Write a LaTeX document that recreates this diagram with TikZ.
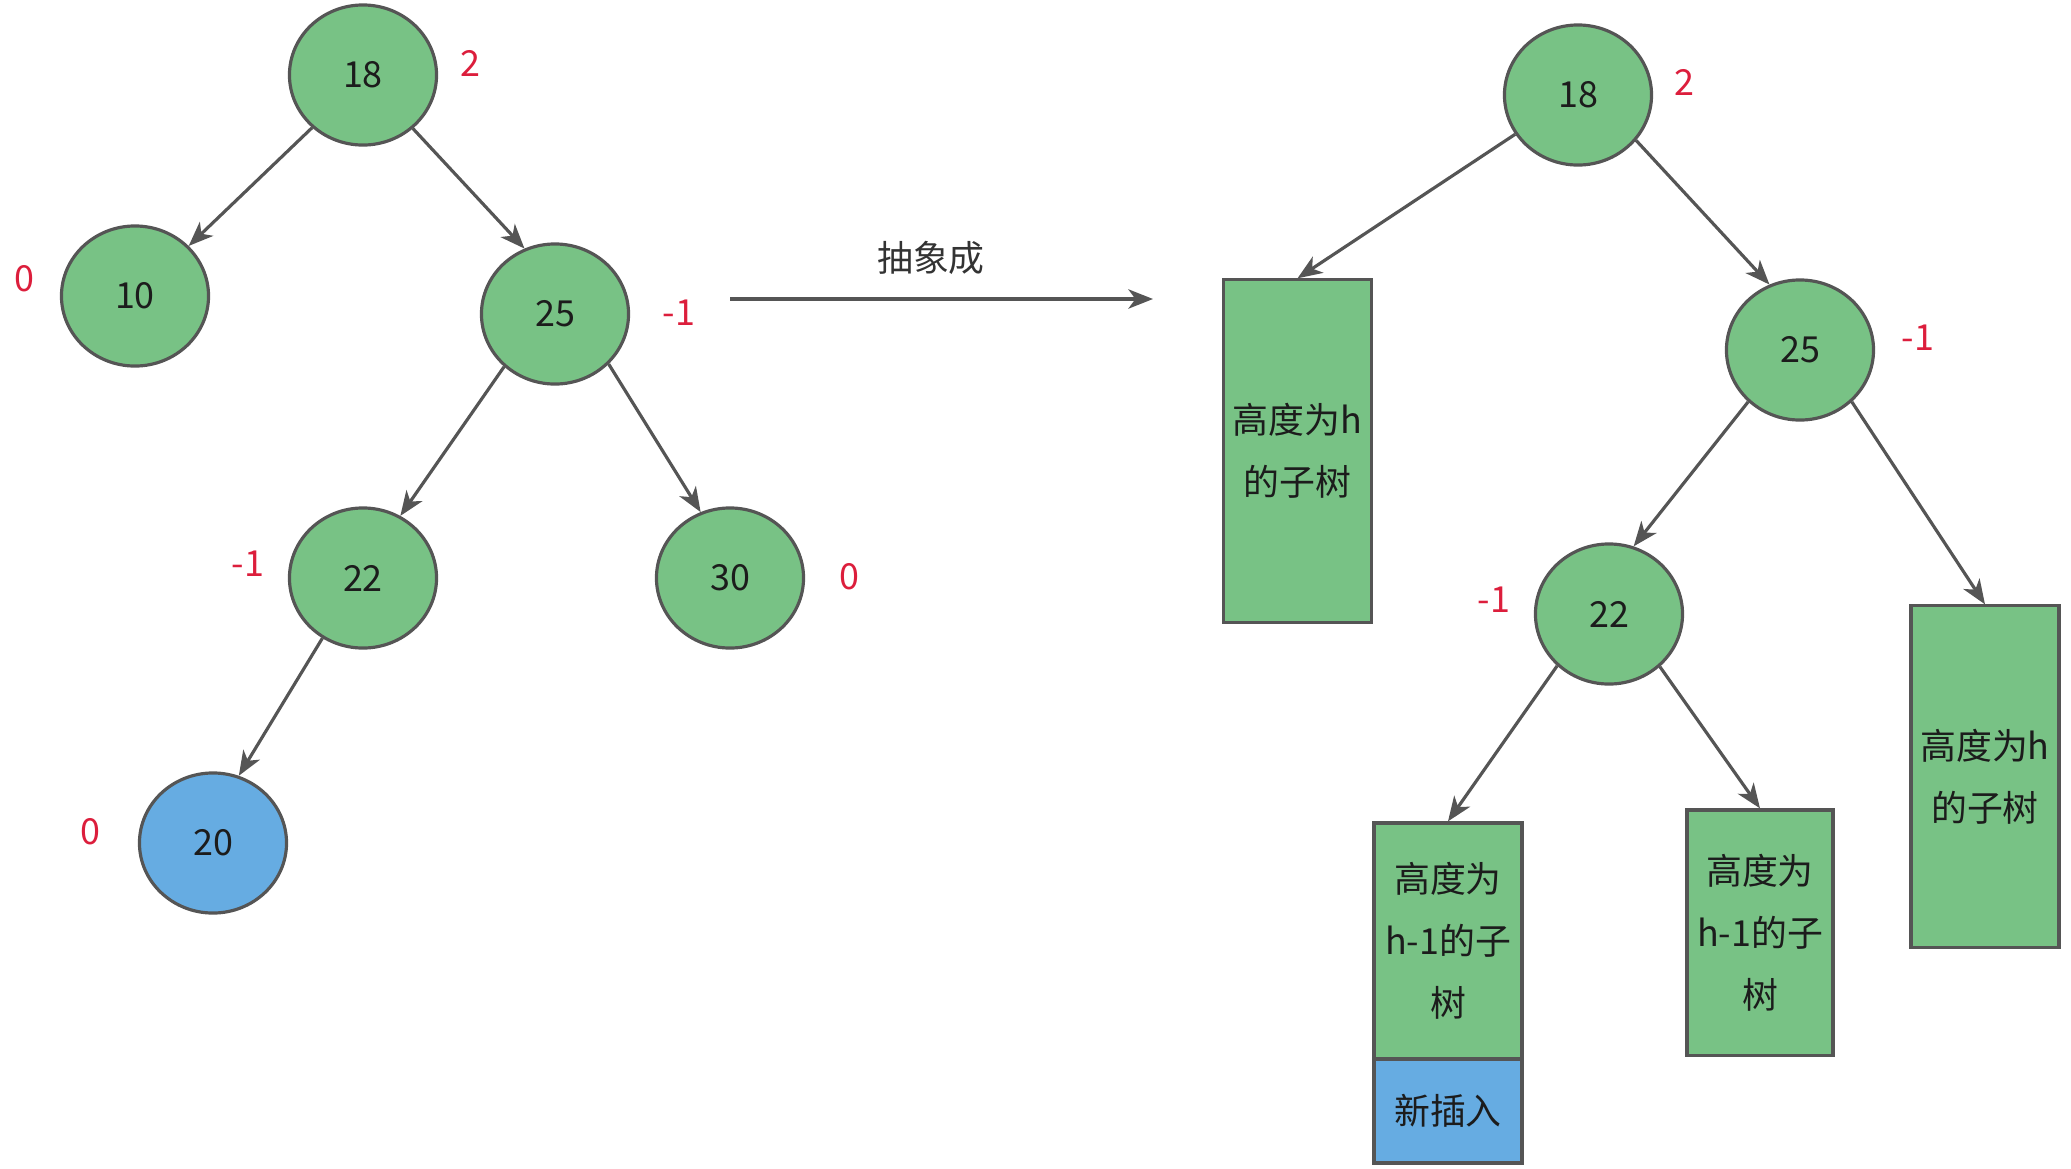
\documentclass[tikz,border=0pt]{standalone}
\usepackage{fontspec}
\setmainfont{Noto Sans CJK SC}
\usetikzlibrary{shapes.geometric,arrows.meta}
\definecolor{nodegreen}{RGB}{120,194,133}
\definecolor{nodeblue}{RGB}{102,172,226}
\definecolor{edgegray}{RGB}{85,85,85}
\definecolor{balred}{RGB}{220,30,60}
\definecolor{txt}{RGB}{28,28,28}
\begin{document}
\begin{tikzpicture}[x=0.01cm,y=-0.01cm,
  treenode/.style={ellipse, draw=edgegray, line width=0.9pt, fill=nodegreen,
    minimum width=1.47cm, minimum height=1.40cm, inner sep=0pt,
    font=\fontsize{10.2}{12}\selectfont, text=txt},
  newnode/.style={treenode, fill=nodeblue},
  subtree/.style={rectangle, draw=edgegray, line width=0.9pt, fill=nodegreen,
    minimum width=1.48cm, inner sep=0pt, align=center,
    font=\fontsize{10.2}{17.6}\selectfont, text=txt},
  newbox/.style={subtree, fill=nodeblue},
  bal/.style={text=balred, font=\fontsize{10.2}{12}\selectfont, inner sep=0pt},
  link/.style={draw=edgegray, line width=0.9pt, -{Stealth[length=7pt,width=5.5pt,inset=2pt]}},
  caption/.style={text=txt!90, font=\fontsize{10.2}{12}\selectfont, inner sep=0pt}
]
\useasboundingbox (0,0) rectangle (2071,1169);

% ---------- left tree ----------
\node[treenode] (L18) at (363,75) {18};
\node[treenode] (L10) at (135,296) {10};
\node[treenode] (L25) at (555,314) {25};
\node[treenode] (L22) at (363,578) {22};
\node[treenode] (L30) at (730,578) {30};
\node[newnode]  (L20) at (213,843) {20};

\node[bal] (bL18) at (470,63) {2};
\node[bal] (bL10) at (24,279) {0};
\node[bal] (bL25) at (679,313) {-1};
\node[bal] (bL22) at (248,564) {-1};
\node[bal] (bL30) at (849,577) {0};
\node[bal] (bL20) at (90,832) {0};

\draw[link] (L18.226) -- (L10.43);
\draw[link] (L18.-47) -- (L25.115);
\draw[link] (L25.226) -- (L22.59);
\draw[link] (L25.-43) -- (L30.114);
\draw[link] (L22.236) -- (L20.69);

% ---------- abstraction arrow ----------
\coordinate (A1) at (730,299);
\coordinate (A2) at (1153,299);
\draw[link] (A1) -- (A2);
\node[caption] (cap) at (931,258) {抽象成};

% ---------- right tree ----------
\node[treenode] (R18) at (1578,95) {18};
\node[treenode] (R25) at (1800,350) {25};
\node[treenode] (R22) at (1609,614) {22};

\node[bal] (bR18) at (1684,82) {2};
\node[bal] (bR25) at (1918,338) {-1};
\node[bal] (bR22) at (1494,600) {-1};

\node[subtree, minimum height=3.42cm] (RH1) at (1297.5,451) {高度为h\\的子树};
\node[subtree, minimum height=3.41cm] (RH2) at (1985,776.5) {高度为h\\的子树};
\node[subtree, minimum height=2.36cm] (HL) at (1448,941) {高度为\\h-1的子\\树};
\node[newbox, minimum height=1.04cm] (NEW) at (1448,1111) {新插入};
\node[subtree, minimum width=1.46cm, minimum height=2.45cm] (HR) at (1760,932.5) {高度为\\h-1的子\\树};

\draw[link] (R18.212) -- (RH1.north);
\draw[link] (R18.-38) -- (R25.115);
\draw[link] (R25.225.5) -- (R22.70);
\draw[link] (R25.-45.5) -- (RH2.north);
\draw[link] (R22.225) -- (HL.north);
\draw[link] (R22.-46) -- (HR.north);
\end{tikzpicture}
\end{document}
